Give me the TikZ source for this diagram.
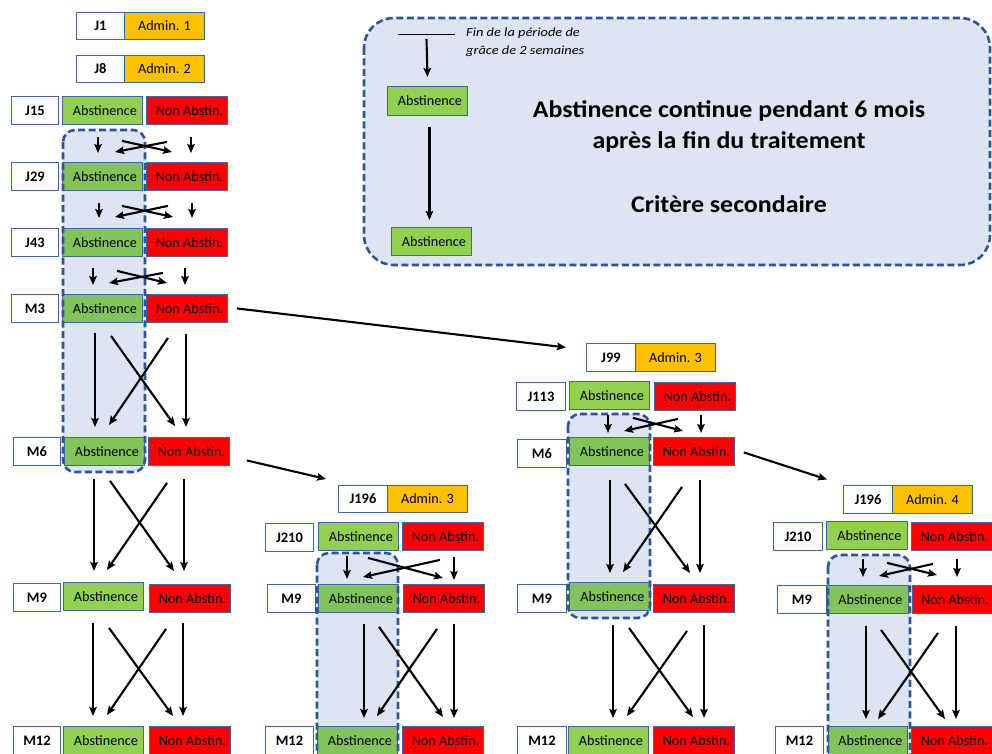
\documentclass[tikz,border=0pt]{standalone}
\usepackage{fontspec}
\setmainfont{Carlito}
\newfontfamily\bigfont{Carlito}[FakeStretch=1.08]
\newfontfamily\finfont{Carlito}[FakeStretch=1.15]
\usetikzlibrary{arrows.meta,calc}
\definecolor{bordc}{HTML}{3D66A8}
\definecolor{regc}{HTML}{2F5597}
\definecolor{regf}{HTML}{DDE4F2}
\definecolor{grn}{HTML}{92D050}
\definecolor{grnb}{HTML}{82C35A}
\definecolor{rd}{HTML}{FF0000}
\definecolor{org}{HTML}{FFC000}
\newcommand\conn[6]{\draw[arr] ($(#1)+(#2,#3)$) -- ($(#4)+(#5,#6)$);}
\begin{document}
\begin{tikzpicture}[x=1pt,y=-1pt,
 bx/.style={draw=bordc,line width=0.9pt,minimum height=28,inner sep=0pt,anchor=north west,font=\fontsize{14.2}{16}\selectfont},
 lbl/.style={bx,fill=white,minimum width=48,font=\bfseries\fontsize{14.5}{16}\selectfont},
 ab/.style={bx,fill=grn,minimum width=80,execute at begin node=\hspace*{5pt}},
 abin/.style={bx,fill=grnb,minimum width=80,execute at begin node=\hspace*{5pt}},
 na/.style={bx,fill=rd,minimum width=81,execute at begin node=\hspace*{5pt}},
 adm/.style={bx,fill=org,minimum width=80,minimum height=27},
 arr/.style={-{Stealth[length=9pt,width=7.5pt,inset=1.5pt]},line width=2.1pt},
 regfill/.style={fill=regf,rounded corners=12pt},
 regline/.style={draw=regc,line width=2.6pt,dash pattern=on 7pt off 3.5pt,rounded corners=12pt},
 bigtxt/.style={anchor=base,font=\bigfont\bfseries\fontsize{24}{28}\selectfont},
 fintxt/.style={anchor=base west,font=\finfont\itshape\fontsize{12.5}{14}\selectfont,inner sep=0pt},
]
\useasboundingbox (0,0) rectangle (992,754);
\clip (0,0) rectangle (992,754);
\fill[white] (0,0) rectangle (992,754);

% legend
\draw[regline,fill=regf,rounded corners=30pt] (364,18) rectangle (990,265);
\coordinate (gl) at (398,34);
\coordinate (gr) at (455,34);
\draw[line width=0.8pt] (gl) -- (gr);
\node[fintxt] (fin1) at (466,37) {Fin de la période de};
\node[fintxt] (fin2) at (466,55) {grâce de 2 semaines};
\node[ab,minimum height=29] (lg1) at (387,86) {Abstinence};
\node[ab] (lg2) at (391,227) {Abstinence};
\draw[arr] ($(gl)!0.5!(gr)+(0,5)$) -- ($(lg1.north)+(0,-9)$);
\conn{lg1.south}{2}{11}{lg2.north}{-2}{-7}
\node[bigtxt] (bt1) at (729,118) {Abstinence continue pendant 6 mois};
\node[bigtxt] (bt2) at (729,149) {après la fin du traitement};
\node[bigtxt] (bt3) at (729,212) {Critère secondaire};

% region fills
\path[regfill] (63,130) rectangle (145,472);
\path[regfill] (317,553) rectangle (398,775);
\path[regfill] (568,414) rectangle (650,618);
\path[regfill] (828,555) rectangle (910,775);

% Column A
\node[lbl,minimum height=27] (lJ1) at (76,12) {J1};
\node[adm] (ad1) at (124,12) {Admin. 1};
\node[lbl,minimum height=27] (lJ8) at (76,55) {J8};
\node[adm] (ad2) at (124,55) {Admin. 2};
\node[lbl,minimum width=47] (lA15) at (11,96) {J15};
\node[ab] (aA15) at (62,96) {Abstinence};
\node[na] (nA15) at (146,96) {Non Abstin.};
\node[lbl,minimum width=47] (lA29) at (11,162) {J29};
\node[abin] (aA29) at (62,162) {Abstinence};
\node[na] (nA29) at (146,162) {Non Abstin.};
\node[lbl,minimum width=47] (lA43) at (11,228) {J43};
\node[abin] (aA43) at (62,228) {Abstinence};
\node[na] (nA43) at (146,228) {Non Abstin.};
\node[lbl,minimum width=47] (lAM3) at (11,294) {M3};
\node[abin] (aAM3) at (62,294) {Abstinence};
\node[na] (nAM3) at (146,294) {Non Abstin.};
\node[lbl,minimum width=47] (lAM6) at (13,437) {M6};
\node[abin] (aAM6) at (64,437) {Abstinence};
\node[na] (nAM6) at (148,437) {Non Abstin.};
\node[lbl,minimum width=47] (lAM9) at (13,583) {M9};
\node[ab] (aAM9) at (63,582) {Abstinence};
\node[na] (nAM9) at (149,584) {Non Abstin.};
\node[lbl,minimum width=47] (lAM12) at (13,726) {M12};
\node[ab] (aAM12) at (63,726) {Abstinence};
\node[na] (nAM12) at (149,726) {Non Abstin.};

% Column B
\node[lbl,minimum width=49,minimum height=27] (lB196) at (338,485) {J196};
\node[adm] (adB) at (387,485) {Admin. 3};
\node[lbl] (lB210) at (265,523) {J210};
\node[ab] (aB210) at (318,522) {Abstinence};
\node[na] (nB210) at (402,522) {Non Abstin.};
\node[lbl] (lB9) at (267,584) {M9};
\node[abin] (aB9) at (318,584) {Abstinence};
\node[na] (nB9) at (403,584) {Non Abstin.};
\node[lbl] (lB12) at (265,726) {M12};
\node[abin] (aB12) at (317,726) {Abstinence};
\node[na] (nB12) at (402,726) {Non Abstin.};

% Column C
\node[lbl,minimum width=49] (lC99) at (586,343) {J99};
\node[adm,minimum height=28] (adC) at (635,343) {Admin. 3};
\node[lbl,minimum width=49] (lC113) at (516,382) {J113};
\node[ab] (aC113) at (569,381) {Abstinence};
\node[na] (nC113) at (654,382) {Non Abstin.};
\node[lbl,minimum width=49] (lC6) at (517,439) {M6};
\node[abin] (aC6) at (569,437) {Abstinence};
\node[na] (nC6) at (653,437) {Non Abstin.};
\node[lbl,minimum width=49] (lC9) at (517,584) {M9};
\node[abin,minimum width=81] (aC9) at (569,582) {Abstinence};
\node[na] (nC9) at (653,584) {Non Abstin.};
\node[lbl,minimum width=49] (lC12) at (517,726) {M12};
\node[ab] (aC12) at (568,726) {Abstinence};
\node[na] (nC12) at (653,726) {Non Abstin.};

% Column D
\node[lbl,minimum width=49] (lD196) at (843,485) {J196};
\node[adm,minimum height=28] (adD) at (892,485) {Admin. 4};
\node[lbl,minimum width=49] (lD210) at (773,522) {J210};
\node[ab,minimum width=81] (aD210) at (826,521) {Abstinence};
\node[na] (nD210) at (911,522) {Non Abstin.};
\node[lbl,minimum width=49] (lD9) at (777,585) {M9};
\node[abin,minimum width=81] (aD9) at (827,585) {Abstinence};
\node[na,minimum width=80] (nD9) at (912,585) {Non Abstin.};
\node[lbl] (lD12) at (775,726) {M12};
\node[abin,minimum width=79] (aD12) at (828,726) {Abstinence};
\node[na] (nD12) at (911,726) {Non Abstin.};

% region borders
\draw[regline] (63,130) rectangle (145,472);
\draw[regline] (317,553) rectangle (398,775);
\draw[regline] (568,414) rectangle (650,618);
\draw[regline] (828,555) rectangle (910,775);

% Column A arrows
\conn{aA15.south west}{36}{12}{aA29.north west}{36}{-9}
\conn{nA15.south west}{45}{12}{nA29.north west}{45}{-9}
\conn{aA15.south west}{60}{16}{nA29.north west}{26}{-10}
\conn{nA15.south west}{21}{17}{aA29.north west}{53}{-10}

\conn{aA29.south west}{37}{12}{aA43.north west}{37}{-10}
\conn{nA29.south west}{46}{12}{nA43.north west}{46}{-10}
\conn{aA29.south west}{60}{15}{nA43.north west}{27}{-11}
\conn{nA29.south west}{22}{15}{aA43.north west}{53}{-11}

\conn{aA43.south west}{31}{11}{aAM3.north west}{31}{-9}
\conn{nA43.south west}{39}{11}{nAM3.north west}{39}{-9}
\conn{aA43.south west}{55}{14}{nAM3.north west}{21}{-11}
\conn{nA43.south west}{17}{16}{aAM3.north west}{47}{-11}

\conn{aAM3.south west}{33}{10}{aAM6.north west}{31}{-10}
\conn{nAM3.south west}{40}{11}{nAM6.north west}{38}{-10}
\conn{aAM3.south west}{49}{13}{nAM6.north west}{27}{-11}
\conn{nAM3.south west}{22}{15}{aAM6.north west}{45}{-12}

\conn{aAM6.south west}{30}{13}{aAM9.north west}{31}{-11}
\conn{nAM6.south west}{36}{13}{nAM9.north west}{35}{-13}
\conn{aAM6.south west}{46}{15}{nAM9.north west}{25}{-13}
\conn{nAM6.south west}{19}{17}{aAM9.north west}{44}{-12}

\conn{aAM9.south west}{30}{12}{aAM12.north west}{30}{-10}
\conn{nAM9.south west}{34}{10}{nAM12.north west}{34}{-10}
\conn{aAM9.south west}{46}{17}{nAM12.north west}{24}{-10}
\conn{nAM9.south west}{17}{16}{aAM12.north west}{44}{-11}

% Column B arrows
\conn{aB210.south west}{29}{5}{aB9.north west}{29}{-5}
\conn{nB210.south west}{52}{6}{nB9.north west}{51}{-4}
\conn{aB210.south west}{50}{7}{nB9.north west}{40}{-6}
\conn{nB210.south west}{38}{9}{aB9.north west}{45}{-7}

\conn{aB9.south west}{46}{11}{aB12.north west}{47}{-8}
\conn{nB9.south west}{51}{11}{nB12.north west}{52}{-8}
\conn{aB9.south west}{61}{14}{nB12.north west}{41}{-9}
\conn{nB9.south west}{34}{16}{aB12.north west}{60}{-10}

% Column C arrows
\conn{aC113.south west}{39}{5}{aC6.north west}{39}{-4}
\conn{nC113.south west}{47}{4}{nC6.north west}{48}{-4}
\conn{aC113.south west}{64}{8}{nC6.north west}{30}{-6}
\conn{nC113.south west}{24}{8}{aC6.north west}{55}{-6}

\conn{aC6.south west}{41}{14}{aC9.north west}{41}{-9}
\conn{nC6.south west}{47}{14}{nC9.north west}{47}{-11}
\conn{aC6.south west}{56}{18}{nC9.north west}{37}{-11}
\conn{nC6.south west}{29}{21}{aC9.north west}{54}{-10}

\conn{aC9.south west}{44}{14}{aC12.north west}{45}{-8}
\conn{nC9.south west}{51}{12}{nC12.north west}{51}{-8}
\conn{aC9.south west}{60}{17}{nC12.north west}{40}{-9}
\conn{nC9.south west}{34}{18}{aC12.north west}{59}{-10}

% Column D arrows
\conn{aD210.south west}{37}{9}{aD9.north west}{36}{-8}
\conn{nD210.south west}{46}{8}{nD9.north west}{45}{-8}
\conn{aD210.south west}{61}{13}{nD9.north west}{25}{-10}
\conn{nD210.south west}{22}{13}{aD9.north west}{52}{-9}

\conn{aD9.south west}{39}{12}{aD12.north west}{38}{-7}
\conn{nD9.south west}{44}{12}{nD12.north west}{45}{-7}
\conn{aD9.south west}{54}{16}{nD12.north west}{34}{-7}
\conn{nD9.south west}{26}{19}{aD12.north west}{50}{-7}

% links between columns
\conn{nAM3.east}{9}{0}{lC99.west}{-20}{-10}
\conn{nAM6.east}{17}{9}{lB196.west}{-12}{-20}
\conn{nC6.east}{9}{1}{lD196.west}{-16}{-20}
\end{tikzpicture}
\end{document}
